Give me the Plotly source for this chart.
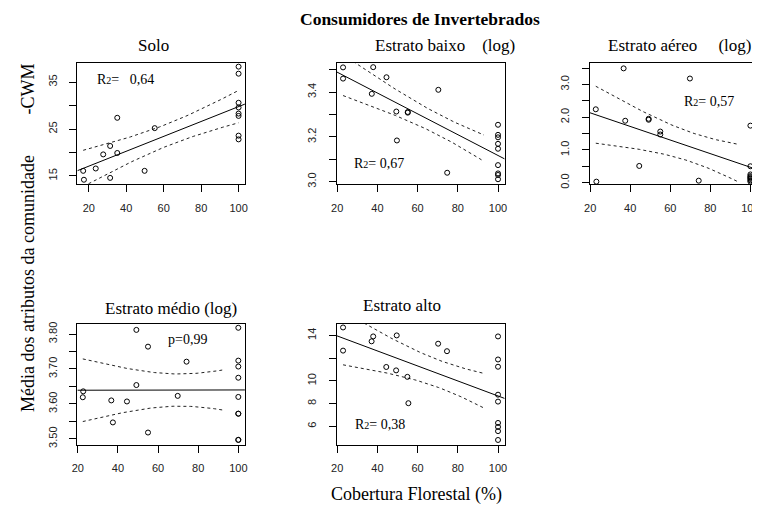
import numpy as np
import plotly.graph_objects as go

PAGE_W, PAGE_H = 760, 511
OFF = 8  # default body margin of the html page
W, H = PAGE_W - OFF, PAGE_H - OFF
NB = "\u00a0"

# ---------------- data ----------------
panel_titles = ["Solo", "Estrato baixo" + NB * 4 + "(log)", "Estrato aéreo" + NB * 5 + "(log)",
                "Estrato médio (log)", "Estrato alto"]
stat_labels = ["R<span style='font-size:10px'>2</span>=" + NB * 2 + " 0,64",
               "R<span style='font-size:10px'>2</span>= 0,67",
               "R<span style='font-size:10px'>2</span>= 0,57",
               "p=0,99",
               "R<span style='font-size:10px'>2</span>= 0,38"]

solo_x = [17.0, 17.4, 23.7, 27.7, 31.4, 31.4, 35.2, 35.2, 49.8, 55.2,
          100, 100, 100, 100, 100, 100, 100, 100]
solo_y = [16.1, 14.2, 16.6, 19.6, 21.4, 14.6, 27.4, 19.9, 16.1, 25.2,
          38.3, 36.8, 30.6, 29.6, 28.3, 27.8, 23.6, 22.8]

baixo_x = [22.9, 22.9, 37.9, 37.2, 44.5, 49.4, 49.7, 55.1, 55.1, 70.3, 74.7,
           100, 100, 100, 100, 100, 100, 100, 100, 100]
baixo_y = [3.510, 3.460, 3.511, 3.392, 3.466, 3.313, 3.184, 3.311, 3.308, 3.410, 3.040,
           3.254, 3.209, 3.198, 3.169, 3.147, 3.074, 3.037, 3.030, 3.011]

aereo_x = [23.1, 22.8, 36.7, 37.5, 44.5, 49.2, 49.2, 55.0, 55.0, 69.8, 74.2,
           100, 100, 100, 100, 100, 100, 100, 100, 100]
aereo_y = [0.03, 2.24, 3.49, 1.89, 0.51, 1.95, 1.92, 1.56, 1.47, 3.18, 0.06,
           1.74, 0.50, 0.25, 0.20, 0.17, 0.14, 0.11, 0.07, 0.03]

medio_x = [22.7, 22.5, 36.7, 37.5, 44.5, 49.2, 49.2, 55.0, 55.0, 69.8, 74.2,
           100, 100, 100, 100, 100, 100, 100, 100, 100]
medio_y = [3.636, 3.619, 3.610, 3.547, 3.607, 3.812, 3.654, 3.764, 3.518, 3.623, 3.721,
           3.818, 3.724, 3.707, 3.675, 3.620, 3.572, 3.572, 3.497, 3.497]

alto_x = [22.9, 22.9, 37.1, 37.9, 44.4, 49.3, 49.6, 54.9, 55.4, 70.2, 74.6,
          100, 100, 100, 100, 100, 100, 100, 100, 100]
alto_y = [14.70, 12.66, 13.48, 13.91, 11.22, 10.92, 14.0, 10.35, 8.03, 13.27, 12.61,
          13.91, 11.88, 11.24, 8.78, 8.17, 6.29, 5.94, 5.57, 4.79]

ci_x_end = [100, 93, 94, 93, 93]

x_tickvals = [20, 40, 60, 80, 100]
y_tickvals = [[15, 20, 25, 30, 35],
              [3.0, 3.1, 3.2, 3.3, 3.4, 3.5],
              [0.0, 0.5, 1.0, 1.5, 2.0, 2.5, 3.0, 3.5],
              [3.50, 3.55, 3.60, 3.65, 3.70, 3.75, 3.80],
              [6, 8, 10, 12, 14]]
y_ticktext = [["15", "", "25", "", "35"],
              ["3.0", "", "3.2", "", "3.4", ""],
              ["0.0", "", "1.0", "", "2.0", "", "3.0", ""],
              ["3.50", "", "3.60", "", "3.70", "", "3.80"],
              ["6", "8", "10", "", "14"]]

# ---------------- layout geometry (page pixels) ----------------
boxes = [  # x0, x1, y_top, y_bottom
    (72.5, 243.0, 62, 184.5),
    (336.5, 507.3, 62, 184.5),
    (593.9, 760.0, 62, 184.5),
    (72.5, 243.0, 325.5, 448),
    (336.5, 507.3, 325.5, 448),
]
xranges = [[13.9, 103.4], [19.8, 103.3], [19.8, 101.3], [19.8, 103.3], [19.8, 103.3]]
yranges = [[13.21, 39.0], [2.988, 3.528], [-0.054, 3.643], [3.483, 3.8297], [4.37, 15.03]]

title_pos = [(150, 44), (447, 44), (686, 44), (167.5, 310), (402.5, 307)]
stat_pos = [(90, 78), (351.5, 163.5), (688, 101), (163, 341), (352.5, 427)]

t_crit = {16: 2.120, 17: 2.110, 18: 2.101, 19: 2.093, 20: 2.086}


def px(x):
    return (x - OFF) / W


def py(y):
    return 1 - (y - OFF) / H


datasets = [(solo_x, solo_y), (baixo_x, baixo_y), (aereo_x, aereo_y),
            (medio_x, medio_y), (alto_x, alto_y)]

fig = go.Figure()
serif = "Liberation Serif"
sans = "Liberation Sans"

for i, ((xs, ys), box) in enumerate(zip(datasets, boxes)):
    k = "" if i == 0 else str(i + 1)
    xa, ya = "x" + k, "y" + k
    x = np.array(xs, float)
    y = np.array(ys, float)
    n = len(x)
    b1, b0 = np.polyfit(x, y, 1)
    resid = y - (b0 + b1 * x)
    s = np.sqrt(np.sum(resid ** 2) / (n - 2))
    xbar = x.mean()
    sxx = np.sum((x - xbar) ** 2)
    t = t_crit[n - 2]
    grid = np.linspace(x.min(), ci_x_end[i], 60)
    fit = b0 + b1 * grid
    half = t * s * np.sqrt(1.0 / n + (grid - xbar) ** 2 / sxx)

    xr = xranges[i]
    fig.add_trace(go.Scatter(x=xr, y=[b0 + b1 * xr[0], b0 + b1 * xr[1]], mode="lines",
                             line=dict(color="black", width=1), xaxis=xa, yaxis=ya,
                             showlegend=False, hoverinfo="skip"))
    for band in (fit + half, fit - half):
        fig.add_trace(go.Scatter(x=grid, y=band, mode="lines",
                                 line=dict(color="#222", width=1, dash="dot"),
                                 xaxis=xa, yaxis=ya, showlegend=False, hoverinfo="skip"))
    fig.add_trace(go.Scatter(x=x, y=y, mode="markers", cliponaxis=False,
                             marker=dict(symbol="circle-open", size=5,
                                         line=dict(color="black", width=1), color="black"),
                             xaxis=xa, yaxis=ya, showlegend=False))

    x0, x1, yt, yb = box
    axcommon = dict(showline=True, mirror=True, linecolor="black", linewidth=1,
                    ticks="outside", ticklen=7, tickcolor="black", tickwidth=1,
                    showgrid=False, zeroline=False,
                    tickfont=dict(family=sans, size=11, color="#222"))
    fig.layout["xaxis" + k] = dict(domain=[max(0, px(x0)), min(1, px(x1))], range=xr, anchor=ya,
                                   tickvals=x_tickvals, ticktext=[str(v) for v in x_tickvals],
                                   ticklabelstandoff=6, ticklabeloverflow="allow", **axcommon)
    fig.layout["yaxis" + k] = dict(domain=[py(yb), py(yt)], range=yranges[i], anchor=xa,
                                   tickvals=y_tickvals[i], ticktext=y_ticktext[i],
                                   tickangle=-90, ticklabelstandoff=8, **axcommon)

annotations = []
for i in range(5):
    tx, ty = title_pos[i]
    annotations.append(dict(text=panel_titles[i], x=px(tx), y=py(ty), xref="paper", yref="paper",
                            showarrow=False, xanchor="center", yanchor="middle",
                            font=dict(family=serif, size=17, color="black")))
    sx, sy = stat_pos[i]
    annotations.append(dict(text=stat_labels[i], x=px(sx), y=py(sy), xref="paper", yref="paper",
                            showarrow=False, xanchor="left", yanchor="middle",
                            font=dict(family=serif, size=14, color="black")))

annotations.append(dict(text="<b>Consumidores de Invertebrados</b>", x=px(421), y=py(17),
                        xref="paper", yref="paper", showarrow=False, xanchor="center", yanchor="middle",
                        font=dict(family=serif, size=17.5, color="black")))
annotations.append(dict(text="Cobertura Florestal (%)", x=px(418), y=py(498),
                        xref="paper", yref="paper", showarrow=False, xanchor="center", yanchor="middle",
                        font=dict(family=serif, size=18, color="black")))
annotations.append(dict(text="Média dos atributos da comunidade" + NB * 9 + "-CWM", x=px(23), y=py(239),
                        xref="paper", yref="paper", showarrow=False, xanchor="center", yanchor="middle",
                        textangle=-90, font=dict(family=serif, size=18, color="black")))

fig.update_layout(width=W, height=H, margin=dict(l=0, r=0, t=0, b=0),
                  paper_bgcolor="white", plot_bgcolor="white", annotations=annotations)

fig.write_html("out.html")
